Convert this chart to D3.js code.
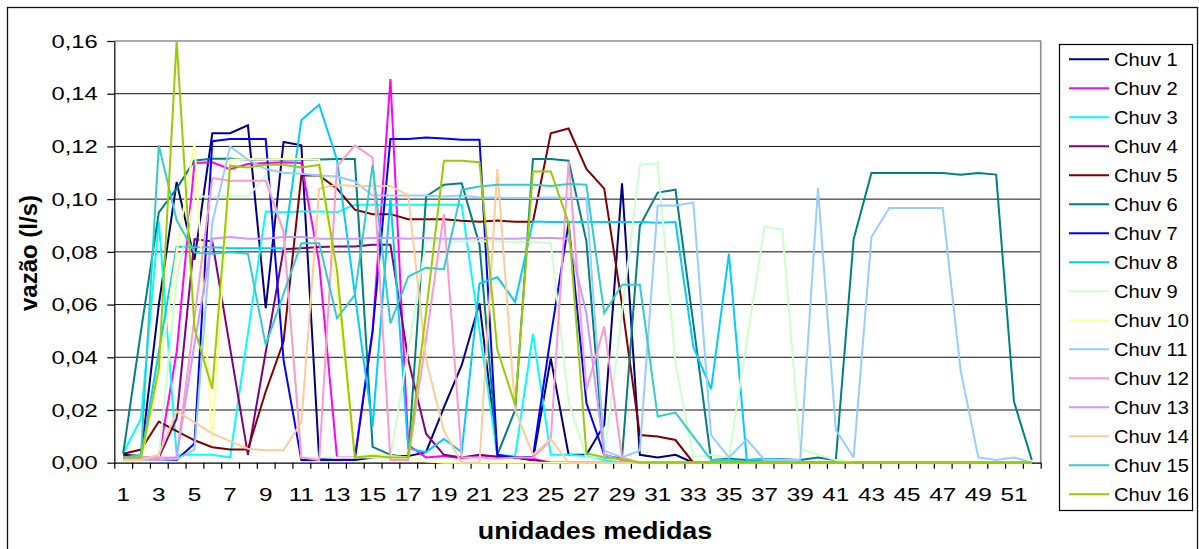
<!DOCTYPE html>
<html><head><meta charset="utf-8">
<script src="https://cdn.jsdelivr.net/npm/d3@7"></script>
<style>
html,body{margin:0;padding:0;background:#fff;}
svg{display:block;}
text{font-family:"Liberation Sans",Arial,sans-serif;fill:#000;}
</style>
</head><body>
<svg id="c" width="1199" height="549"></svg>
<script>
// ---------- DATA ----------
const categories = [1,2,3,4,5,6,7,8,9,10,11,12,13,14,15,16,17,18,19,20,21,22,23,24,25,26,
  27,28,29,30,31,32,33,34,35,36,37,38,39,40,41,42,43,44,45,46,47,48,49,50,51,52];
const xTickLabels = ["1","3","5","7","9","11","13","15","17","19","21","23","25",
  "27","29","31","33","35","37","39","41","43","45","47","49","51"];
const yTickValues = [0,0.02,0.04,0.06,0.08,0.10,0.12,0.14,0.16];
const yTickLabels = ["0,00","0,02","0,04","0,06","0,08","0,10","0,12","0,14","0,16"];
const seriesNames = ["Chuv 1","Chuv 2","Chuv 3","Chuv 4","Chuv 5","Chuv 6","Chuv 7","Chuv 8",
  "Chuv 9","Chuv 10","Chuv 11","Chuv 12","Chuv 13","Chuv 14","Chuv 15","Chuv 16"];
const seriesColors = ["#000080","#FF00FF","#00FFFF","#800080","#800000","#008080","#0000FF","#00CCFF",
  "#CCFFCC","#FFFF99","#99CCFF","#FF99CC","#CC99FF","#FFCC99","#33CCCC","#99CC00"];

const chuv1 = [0.003,0.0025,0.06,0.1065,0.077,0.125,0.125,0.128,0.0586,0.1217,
  0.1204,0.0015,0.001,0.001,0.002,0.0025,0.0025,0.004,0.021,0.037,
  0.0605,0.003,0.002,0.001,0.0396,0.003,0.003,0.0143,0.106,0.003,
  0.002,0.003,0,0,0,0,0,0,0,0,
  0,0,0,0,0,0,0,0,0,0,
  0,0];
const chuv2 = [0.002,0.002,0.002,0.042,0.1137,0.114,0.1114,0.1133,0.1137,0.114,
  0.1137,0.0757,0.002,0.002,0.05,0.1456,0.0067,0.002,0.0025,0.0017,
  0.0027,0.0023,0.002,0.0015,0,0,0,0,0,0,
  0,0,0,0,0,0,0,0,0,0,
  0,0,0,0,0,0,0,0,0,0,
  0,0];
const chuv3 = [0.0035,0.0168,0.0915,0.003,0.003,0.003,0.002,0.049,0.0953,0.095,
  0.0953,0.0953,0.095,0.0979,0.0979,0.0979,0.0979,0.0979,0.0979,0.0979,
  0.05,0.003,0.0025,0.0489,0.003,0.003,0.0025,0.001,0,0,
  0,0,0,0,0,0,0,0,0,0,
  0,0,0,0,0,0,0,0,0,0,
  0,0];
const chuv4 = [0.0023,0.002,0.002,0.0168,0.0848,0.084,0.0435,0.003,0.042,0.081,
  0.0814,0.0818,0.082,0.082,0.0827,0.0827,0.039,0.011,0.003,0.002,
  0.003,0.0023,0.002,0.001,0,0,0,0,0,0,
  0,0,0,0,0,0,0,0,0,0,
  0,0,0,0,0,0,0,0,0,0,
  0,0];
const chuv5 = [0.0034,0.005,0.0156,0.012,0.0085,0.0059,0.005,0.005,0.027,0.046,
  0.109,0.109,0.104,0.096,0.0943,0.0943,0.0924,0.0924,0.0924,0.0918,
  0.0914,0.0919,0.0914,0.0914,0.125,0.1268,0.1115,0.104,0.06,0.0105,
  0.0099,0.0086,0,0,0,0,0,0,0,0,
  0,0,0,0,0,0,0,0,0,0,
  0,0];
const chuv6 = [0.0035,0.05,0.095,0.104,0.1147,0.1153,0.1153,0.115,0.115,0.115,
  0.115,0.115,0.1152,0.1152,0.006,0.003,0.002,0.101,0.1055,0.106,
  0.0827,0.003,0.02,0.1152,0.1152,0.1146,0.084,0.002,0.002,0.0899,
  0.1025,0.1036,0.053,0.001,0.0015,0.001,0.0012,0.0013,0.001,0.002,
  0.001,0.0848,0.1099,0.1099,0.1099,0.1099,0.1099,0.1093,0.1099,0.1093,
  0.0232,0.001];
const chuv7 = [0.001,0.001,0.001,0.001,0.0073,0.122,0.1228,0.1228,0.1228,0.039,
  0.001,0.001,0.001,0.001,0.05,0.1228,0.1228,0.1234,0.123,0.1225,
  0.1225,0.003,0.002,0.0023,0.048,0.091,0.0226,0.003,0.001,0,
  0,0,0,0,0,0,0,0,0,0,
  0,0,0,0,0,0,0,0,0,0,
  0,0];
const chuv8 = [0.0017,0.002,0.042,0.082,0.0817,0.0817,0.0814,0.0814,0.0814,0.0814,
  0.13,0.1358,0.115,0.064,0.0137,0.1004,0.0054,0.004,0.009,0.004,
  0.068,0.0704,0.061,0.0915,0.0913,0.0913,0.0913,0.0913,0.0913,0.0913,
  0.091,0.0913,0.044,0.0279,0.0793,0.001,0.0014,0.001,0,0,
  0,0,0,0,0,0,0,0,0,0,
  0,0];
const chuv9 = [0.002,0.002,0.002,0.07,0.101,0.101,0.1013,0.101,0.109,0.087,
  0.002,0.002,0.002,0.002,0.002,0.002,0.043,0.084,0.084,0.084,
  0.084,0.084,0.0837,0.0837,0.0833,0.023,0.002,0.002,0.057,0.113,
  0.1137,0.0377,0.002,0.003,0.002,0.046,0.0896,0.0884,0.0054,0.003,
  0.001,0,0,0,0,0,0,0,0,0,
  0,0];
const chuv10 = [0.001,0.001,0.0327,0.08,0.1215,0.0075,0.115,0.1152,0.115,0.1152,
  0.1152,0.115,0.065,0.002,0.003,0.0025,0.002,0.0005,0,0,
  0,0,0,0,0,0,0,0,0,0,
  0,0,0,0,0,0,0,0,0,0,
  0,0,0,0,0,0,0,0,0,0,
  0,0];
const chuv11 = [0.001,0.001,0.001,0.0013,0.005,0.091,0.12,0.115,0.1114,0.11,
  0.1096,0.109,0.1086,0.1067,0.1014,0.1014,0.1014,0.1014,0.101,0.1014,
  0.1006,0.1006,0.1004,0.1004,0.1006,0.1004,0.1004,0.0046,0.002,0.0046,
  0.0976,0.0976,0.0987,0.0105,0.002,0.0089,0.001,0.001,0.001,0.1042,
  0.0124,0.002,0.0856,0.0966,0.0966,0.0966,0.0966,0.0352,0.002,0.001,
  0.002,0];
const chuv12 = [0.002,0.002,0.002,0.002,0.055,0.108,0.107,0.107,0.107,0.0877,
  0.002,0.001,0.1124,0.1204,0.1158,0.001,0.001,0.047,0.0943,0.002,
  0.002,0.0015,0.002,0.002,0.0085,0.1143,0.0276,0.0517,0.002,0,
  0,0,0,0,0,0,0,0,0,0,
  0,0,0,0,0,0,0,0,0,0,
  0,0];
const chuv13 = [0.002,0.0015,0.001,0.002,0.045,0.085,0.0856,0.085,0.085,0.0856,
  0.0856,0.085,0.085,0.085,0.0853,0.0853,0.085,0.0853,0.085,0.085,
  0.0853,0.085,0.085,0.0853,0.0853,0.085,0.0567,0.003,0.001,0,
  0,0,0,0,0,0,0,0,0,0,
  0,0,0,0,0,0,0,0,0,0,
  0,0];
const chuv14 = [0.001,0.001,0.003,0.0195,0.0153,0.011,0.0082,0.0053,0.0047,0.0047,
  0.0153,0.104,0.1055,0.105,0.105,0.105,0.1014,0.039,0.012,0,
  0,0.1114,0.02,0.003,0.0089,0,0,0,0,0,
  0,0,0,0,0,0,0,0,0,0,
  0,0,0,0,0,0,0,0,0,0,
  0,0];
const chuv15 = [0.002,0.003,0.1204,0.092,0.0798,0.0793,0.0798,0.0793,0.0447,0.064,
  0.0833,0.0833,0.0548,0.0637,0.113,0.0529,0.0706,0.074,0.0734,0.1036,
  0.1048,0.1055,0.1055,0.1055,0.105,0.1057,0.1055,0.0567,0.0675,0.0675,
  0.0175,0.019,0.01,0.001,0.001,0.0005,0,0,0,0,
  0,0,0,0,0,0,0,0,0,0,
  0,0];
const chuv16 = [0.002,0.002,0.0358,0.16,0.051,0.028,0.1127,0.112,0.113,0.113,
  0.112,0.113,0.073,0.002,0.0026,0.002,0.002,0.057,0.1146,0.1146,
  0.114,0.0428,0.0219,0.1105,0.1105,0.091,0.0036,0.002,0.0013,0,
  0,0,0,0,0,0,0,0,0,0,
  0,0,0,0,0,0,0,0,0,0,
  0,0];

const allSeries = [chuv1,chuv2,chuv3,chuv4,chuv5,chuv6,chuv7,chuv8,
  chuv9,chuv10,chuv11,chuv12,chuv13,chuv14,chuv15,chuv16];

// ---------- CHART ----------
const svg = d3.select("#c");
const P = {left:114.3, right:1040.7, top:41, bottom:462.7};

const x = d3.scaleBand().domain(categories).range([P.left, P.right]).padding(0);
const xb = d3.scaleLinear().domain([0, categories.length]).range([P.left, P.right]);
const y = d3.scaleLinear().domain([0, 0.16]).range([P.bottom, P.top]);
const cx = c => x(c) + x.bandwidth() / 2;

svg.append("rect").attr("width",1199).attr("height",549).attr("fill","#fff");
// outer chart border
svg.append("rect").attr("x",7.5).attr("y",7.5).attr("width",1190).attr("height",600)
  .attr("fill","none").attr("stroke","#111").attr("stroke-width",1.3);

// gridlines
svg.append("g").selectAll("line")
  .data(yTickValues.filter(v => v > 0 && v < 0.16)).join("line")
  .attr("x1",P.left).attr("x2",P.right)
  .attr("y1",d => y(d)).attr("y2",d => y(d))
  .attr("stroke","#111").attr("stroke-width",1);

// plot area border (top/right) gray
svg.append("path").attr("d",`M${P.left},${y(0.16)}H${P.right}V${P.bottom}`)
  .attr("fill","none").attr("stroke","#8e8e8e").attr("stroke-width",1.6);

// y axis
const gy = svg.append("g").attr("transform",`translate(${P.left},0)`)
  .call(d3.axisLeft(y).tickValues(yTickValues).tickSize(7).tickSizeOuter(0).tickFormat(""));
gy.selectAll("path,line").attr("stroke","#000").attr("stroke-width",1.2);

// x axis (ticks at category boundaries)
const gx = svg.append("g").attr("transform",`translate(0,${P.bottom})`)
  .call(d3.axisBottom(xb).tickValues(d3.range(0, categories.length + 1)).tickSize(6).tickSizeOuter(0).tickFormat(""));
gx.selectAll("path,line").attr("stroke","#000").attr("stroke-width",1.2);

// y tick labels
svg.append("g").selectAll("text").data(yTickValues).join("text")
  .attr("transform",(d) => `translate(97.7,${y(d)}) scale(1.25,1)`)
  .attr("text-anchor","end").attr("dy","0.35em")
  .style("font-size","19px")
  .text((d,i) => yTickLabels[i]);

// x tick labels
svg.append("g").selectAll("text").data(xTickLabels).join("text")
  .attr("transform",d => `translate(${cx(+d)},500.7) scale(1.28,1)`)
  .attr("text-anchor","middle")
  .style("font-size","19px")
  .text(d => d);

// series lines
const line = d3.line().x((d,i) => cx(categories[i])).y(d => y(d));
svg.append("g").selectAll("path").data(allSeries).join("path")
  .attr("d", line)
  .attr("fill","none")
  .attr("stroke",(d,i) => seriesColors[i])
  .attr("stroke-width",2)
  .attr("stroke-linejoin","miter")
  .attr("stroke-miterlimit",3);

// axis titles
svg.append("text")
  .attr("transform","translate(595,538.5) scale(1.12,1)")
  .attr("text-anchor","middle")
  .style("font-size","24px").style("font-weight","bold")
  .text("unidades medidas");
svg.append("text")
  .attr("transform","translate(37,253) rotate(-90)")
  .attr("text-anchor","middle")
  .style("font-size","24px").style("font-weight","bold")
  .text("vazão (l/s)");

// legend
const lg = svg.append("g");
lg.append("rect").attr("x",1059.5).attr("y",44.5).attr("width",133).attr("height",466)
  .attr("fill","#fff").attr("stroke","#000").attr("stroke-width",1.2);
const item = lg.selectAll("g.item").data(seriesNames).join("g").attr("class","item")
  .attr("transform",(d,i) => `translate(0,${59.3 + i * 29.0})`);
item.append("line").attr("x1",1069).attr("x2",1109).attr("y1",0).attr("y2",0)
  .attr("stroke",(d,i) => seriesColors[i]).attr("stroke-width",2);
item.append("text")
  .attr("transform","translate(1114,6.6) scale(1.06,1)")
  .style("font-size","19px")
  .text(d => d);
</script>
</body></html>
